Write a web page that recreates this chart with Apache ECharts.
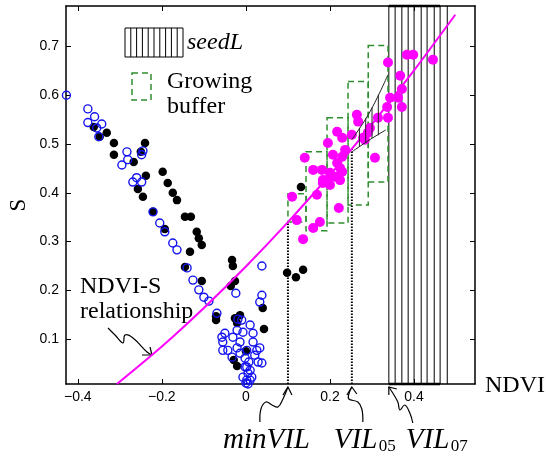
<!DOCTYPE html>
<html><head><meta charset="utf-8">
<script src="https://cdn.jsdelivr.net/npm/echarts@6/dist/echarts.min.js"></script>
<style>html,body{margin:0;padding:0;background:#fff}#c{width:546px;height:457px}</style>
</head><body><div id="c"></div>
<script>
// ---- axis ranges & ticks ----
const X_MIN = -0.428, X_MAX = 0.545, Y_MIN = 0.008, Y_MAX = 0.783;
const xTicks = [-0.4, -0.2, 0, 0.2, 0.4];
const yTicks = [0.1, 0.2, 0.3, 0.4, 0.5, 0.6, 0.7];

// ---- scatter data (NDVI, S) ----
const blueOpen = [
[-0.427,0.600],[-0.376,0.572],[-0.360,0.556],[-0.376,0.544],[-0.343,0.541],[-0.355,0.533],[-0.350,0.515],
[-0.283,0.484],[-0.295,0.457],[-0.281,0.468],[-0.245,0.486],[-0.248,0.478],
[-0.269,0.422],[-0.260,0.431],[-0.248,0.422],
[-0.221,0.361],[-0.205,0.338],[-0.193,0.320],[-0.174,0.297],[-0.164,0.283],[-0.140,0.246],[-0.126,0.221],
[-0.112,0.201],[-0.100,0.186],[-0.088,0.178],[-0.069,0.153],
[-0.024,0.194],[-0.019,0.141],[0.038,0.250],[0.038,0.190],[0.033,0.176],
[-0.050,0.112],[-0.057,0.104],[-0.055,0.094],[-0.043,0.077],[-0.031,0.104],[-0.021,0.118],[-0.010,0.139],
[-0.007,0.114],[0.010,0.129],[0.017,0.112],[0.017,0.094],[0.026,0.077],[0.029,0.053],[-0.014,0.071],
[-0.002,0.061],[0.002,0.043],[0.005,0.030],[0.002,0.016],[0.010,0.036],[0.014,0.022],[-0.007,0.022],
[-0.014,0.094],[-0.021,0.082],[-0.033,0.063],[-0.055,0.077],[0.002,0.077],[0.033,0.082],[0.038,0.051],
[0.005,0.008],[0.000,0.010],[0.010,0.016],[0.021,0.067],[-0.002,0.043],[0.007,0.053]
];
const blackFilled = [
[-0.362,0.535],[-0.348,0.515],[-0.331,0.523],[-0.314,0.502],[-0.314,0.478],[-0.267,0.463],[-0.240,0.502],
[-0.250,0.484],[-0.238,0.435],[-0.257,0.408],[-0.245,0.392],[-0.198,0.443],[-0.186,0.420],[-0.174,0.400],
[-0.164,0.385],[-0.145,0.351],[-0.131,0.351],[-0.221,0.361],[-0.193,0.326],[-0.117,0.320],[-0.112,0.307],
[-0.105,0.293],[-0.133,0.279],[-0.145,0.248],[-0.105,0.219],[-0.071,0.147],[-0.071,0.139],[-0.033,0.262],
[-0.031,0.250],[-0.026,0.219],[-0.036,0.209],[-0.026,0.143],[-0.014,0.149],[-0.021,0.133],[0.040,0.164],
[0.043,0.121],[-0.029,0.057],[-0.021,0.045],[0.000,0.075],[0.098,0.236],[0.119,0.227],[0.136,0.242],[0.131,0.412]
];
const magentaFilled = [
[0.110,0.392],[0.121,0.344],[0.136,0.305],[0.160,0.328],[0.176,0.340],[0.169,0.396],[0.221,0.369],
[0.140,0.472],[0.160,0.447],[0.181,0.447],[0.183,0.426],[0.183,0.420],[0.200,0.441],[0.193,0.426],
[0.212,0.433],[0.224,0.426],[0.200,0.416],[0.217,0.461],[0.224,0.451],[0.229,0.443],[0.207,0.478],
[0.229,0.474],[0.195,0.502],[0.217,0.525],[0.229,0.513],[0.236,0.488],[0.252,0.519],[0.264,0.560],
[0.267,0.546],[0.279,0.513],[0.283,0.509],[0.290,0.523],[0.295,0.533],[0.307,0.472],[0.314,0.554],
[0.338,0.554],[0.336,0.576],[0.343,0.595],[0.362,0.595],[0.371,0.576],[0.371,0.613],[0.367,0.640],
[0.338,0.667],[0.383,0.683],[0.398,0.683],[0.445,0.673]
];

// ---- NDVI-S relationship curve ----
const curveNDVI = [-0.307,-0.2,-0.1,0,0.1,0.2,0.3,0.4,0.498];
const curveS    = [0.008,0.085,0.164,0.249,0.340,0.437,0.541,0.651,0.765];

// ---- seedL hatched zone ----
const seedLines = [0.340,0.355,0.371,0.386,0.400,0.417,0.431,0.448,0.462,0.479];
const seedEdge  = [0.340,0.462];

// ---- growing buffer columns ----
const bufferX    = [0.100,0.143,0.193,0.243,0.291,0.338];
const bufferLow  = [0.340,0.322,0.338,0.375,0.422];
const bufferHigh = [0.398,0.484,0.554,0.628,0.702];

// ---- thresholds ----
const thresholdNames = ['minVIL','VIL05','VIL07'];
const thresholdX     = [0.100,0.252,0.340];
const dottedTop      = [0.340,0.490];

// ---- seed wedge ----
const wedgeUpperX = [0.252,0.295,0.338], wedgeUpperS = [0.509,0.566,0.642];
const wedgeLowerX = [0.252,0.295,0.333], wedgeLowerS = [0.484,0.509,0.529];
const hatchX = [0.270,0.285,0.300,0.315];
const hatchLow = [0.495,0.503,0.512,0.518];
const hatchHigh = [0.533,0.553,0.575,0.601];

const SERIF = 'Liberation Serif', SANS = 'Liberation Sans';
const MAG = '#ff00ff', GREEN = '#2f8f2f', BLUE = '#1414f0';

const chart = echarts.init(document.getElementById('c'), null, {renderer:'canvas'});

function vline(stroke, width, dash) {
  return function (p, api) {
    const a = api.coord([api.value(0), api.value(1)]);
    const b = api.coord([api.value(0), api.value(2)]);
    return {type:'line', shape:{x1:a[0],y1:a[1],x2:b[0],y2:b[1]},
      style:{stroke:stroke, lineWidth:width, lineDash:dash||null}};
  };
}
function hline(stroke, width) {
  return function (p, api) {
    const a = api.coord([api.value(0), api.value(2)]);
    const b = api.coord([api.value(1), api.value(2)]);
    return {type:'line', shape:{x1:a[0],y1:a[1],x2:b[0],y2:b[1]},
      style:{stroke:stroke, lineWidth:width}};
  };
}

const axisCommon = {
  type:'value', splitLine:{show:false},
  axisLine:{show:true, onZero:false, lineStyle:{color:'#000', width:1.5}},
};

chart.setOption({
  animation:false,
  backgroundColor:'#fff',
  grid:{left:66, right:71, top:6, bottom:73, outerBoundsMode:'none', containLabel:false},
  xAxis:[
    Object.assign({}, axisCommon, {min:X_MIN, max:X_MAX, position:'bottom',
      axisTick:{inside:true, length:5, customValues:xTicks, lineStyle:{color:'#000'}},
      axisLabel:{customValues:xTicks, margin:6, color:'#000', fontFamily:SANS, fontSize:14,
        formatter:v => v === 0 ? '0' : (v < 0 ? '\u2212' : '') + Math.abs(v).toFixed(1)}}),
    Object.assign({}, axisCommon, {min:X_MIN, max:X_MAX, position:'top',
      axisTick:{inside:true, length:5, customValues:xTicks, lineStyle:{color:'#000'}},
      axisLabel:{show:false}})
  ],
  yAxis:[
    Object.assign({}, axisCommon, {min:Y_MIN, max:Y_MAX, position:'left',
      axisTick:{inside:true, length:5, customValues:yTicks, lineStyle:{color:'#000'}},
      axisLabel:{customValues:yTicks, margin:7, color:'#000', fontFamily:SANS, fontSize:14,
        formatter:v => v.toFixed(1)}}),
    Object.assign({}, axisCommon, {min:Y_MIN, max:Y_MAX, position:'right',
      axisTick:{inside:true, length:5, customValues:yTicks, lineStyle:{color:'#000'}},
      axisLabel:{show:false}})
  ],
  series:[
    {type:'custom', z:1, silent:true, clip:true,
      data:seedLines.map(x => [x, Y_MIN, Y_MAX]), encode:{x:0, y:[1,2]},
      renderItem:vline('#000', 1)},
    {type:'custom', z:1, silent:true, clip:false,
      data:[[seedEdge[0], seedEdge[1], Y_MAX], [seedEdge[0], seedEdge[1], Y_MIN]], encode:{x:[0,1], y:2},
      renderItem:hline('#000', 2.5)},
    {type:'custom', z:2, silent:true,
      data:bufferLow.map((lo,i) => [bufferX[i], bufferX[i+1], lo, bufferHigh[i]]),
      encode:{x:[0,1], y:[2,3]},
      renderItem:function (p, api) {
        const a = api.coord([api.value(0), api.value(3)]);
        const b = api.coord([api.value(1), api.value(2)]);
        return {type:'rect', shape:{x:a[0], y:a[1], width:b[0]-a[0], height:b[1]-a[1]},
          style:{fill:null, stroke:GREEN, lineWidth:1.5, lineDash:[6,4]}};
      }},
    {type:'scatter', z:3, data:blackFilled, symbol:'circle', symbolSize:8.5,
      itemStyle:{color:'#000', opacity:1}},
    {type:'scatter', z:4, data:blueOpen, symbol:'circle', symbolSize:8,
      itemStyle:{color:'rgba(0,0,0,0)', borderColor:BLUE, borderWidth:1.4, opacity:1}},
    {type:'scatter', z:5, data:magentaFilled, symbol:'circle', symbolSize:10,
      itemStyle:{color:MAG, opacity:1}},
    {type:'line', z:6, data:curveNDVI.map((x,i) => [x, curveS[i]]), smooth:0.3, showSymbol:false,
      lineStyle:{color:MAG, width:2}},
    {type:'custom', z:6, silent:true,
      data:thresholdX.slice(0,2).map((x,i) => [x, Y_MIN, dottedTop[i]]), encode:{x:0, y:[1,2]},
      renderItem:vline('#000', 2, [1.5,1.5])},
    {type:'line', z:7, data:wedgeUpperX.map((x,i) => [x, wedgeUpperS[i]]), smooth:0.4, showSymbol:false,
      lineStyle:{color:'#222', width:1}},
    {type:'line', z:7, data:wedgeLowerX.map((x,i) => [x, wedgeLowerS[i]]), smooth:0.4, showSymbol:false,
      lineStyle:{color:'#222', width:1}},
    {type:'custom', z:7, silent:true,
      data:hatchX.map((x,i) => [x, hatchLow[i], hatchHigh[i]]), encode:{x:0, y:[1,2]},
      renderItem:vline('#222', 1)}
  ]
});

// ---- annotations ----
const axisY = chart.convertToPixel({yAxisIndex:0}, Y_MIN);
const tips = thresholdX.map(x => chart.convertToPixel({xAxisIndex:0}, x));

function arrow(tx, ty, pts, wings) {
  return [
    {type:'polyline', silent:true, shape:{points:pts.map(p => [tx+p[0], ty+p[1]]), smooth:0.4},
      style:{stroke:'#000', lineWidth:1.2, fill:null}},
    {type:'polyline', silent:true, shape:{points:[[tx+wings[0][0], ty+wings[0][1]], [tx, ty], [tx+wings[1][0], ty+wings[1][1]]]},
      style:{stroke:'#000', lineWidth:1.2, fill:null}}
  ];
}
function serifText(x, y, text, size, opts) {
  opts = opts || {};
  return {type:'text', silent:true, x:x, y:y, rotation:opts.rotation || 0,
    style:{text:text, fill:'#000', font:(opts.italic ? 'italic ' : '') + size + 'px "' + SERIF + '"',
      align:opts.align || 'left', verticalAlign:'middle'}};
}

const ty = axisY + 3;
let g = [];
g = g.concat(arrow(tips[0], ty, [[-28,35],[-27,22],[-22,15],[-16,18],[-10,20],[-5,12],[0,0]], [[-5,8],[4,8]]));
g = g.concat(arrow(tips[1], ty, [[11,35],[10,22],[6,15],[-3,12],[-3,7],[0,0]], [[-5,8],[5,7]]));
g = g.concat(arrow(tips[2], ty, [[24,36],[21,26],[16,18],[11,23],[9,15],[0,0]], [[0,8],[8,2]]));
g = g.concat(arrow(152, 355, [[-44,-27],[-37,-20],[-29,-12],[-27,-20],[-19,-17],[-5,-3],[0,0]], [[-10,0],[-2,-8]]));

// threshold labels
g.push(serifText(tips[0] - 65, 440, 'minVIL', 29, {italic:true}));
g.push(serifText(tips[1] - 18, 440, 'VIL', 29, {italic:true}));
g.push(serifText(tips[1] + 27, 447, '05', 17));
g.push(serifText(tips[2] + 17, 440, 'VIL', 29, {italic:true}));
g.push(serifText(tips[2] + 62, 447, '07', 17));

// axis titles
g.push(serifText(485, 386, 'NDVI', 24));
g.push(serifText(19, 205, 'S', 23, {rotation:Math.PI/2, align:'center'}));

// relationship label
g.push(serifText(80, 287, 'NDVI-S', 24));
g.push(serifText(80, 312, 'relationship', 24));

// legend
g.push({type:'rect', silent:true, shape:{x:125, y:28, width:58, height:29}, style:{fill:null, stroke:'#000', lineWidth:1}});
for (let i = 1; i <= 9; i++) {
  const lx = 125 + i * 5.8;
  g.push({type:'line', silent:true, shape:{x1:lx, y1:28, x2:lx, y2:57}, style:{stroke:'#000', lineWidth:1}});
}
g.push(serifText(187, 43, 'seedL', 24, {italic:true}));
g.push({type:'rect', silent:true, shape:{x:132, y:73, width:19, height:27}, style:{fill:null, stroke:GREEN, lineWidth:1.5, lineDash:[6,4]}});
g.push(serifText(167, 82, 'Growing', 24));
g.push(serifText(167, 107, 'buffer', 24));

chart.setOption({graphic:g});
</script>
</body></html>
